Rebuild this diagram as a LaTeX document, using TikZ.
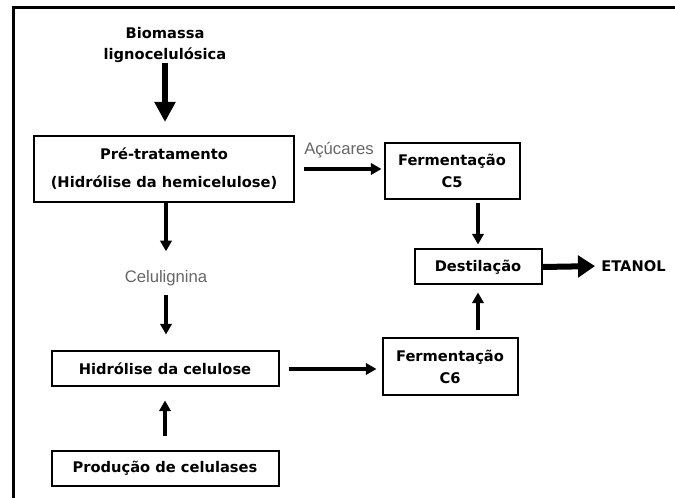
\documentclass[tikz,border=0pt]{standalone}
\usepackage{fontspec}
\setmainfont{DejaVu Sans}
\newfontfamily\lightsans{Liberation Sans}
\usetikzlibrary{arrows.meta}

\begin{document}
\begin{tikzpicture}[x=0.75pt,y=-0.75pt,
  stage/.style={draw=black, line width=1.5pt, fill=white,
    font=\bfseries\fontsize{11}{13}\selectfont, align=center, inner sep=0pt},
  note/.style={font=\bfseries\fontsize{11}{15.5}\selectfont, align=center, inner sep=0pt},
  flowlabel/.style={font=\lightsans\fontsize{12.5}{14}\selectfont, text=black!60, inner sep=0pt},
  flow/.style={line width=2.3pt, -{Triangle[width=8.5pt,length=8pt]}},
  bigflow/.style={line width=4.5pt, -{Triangle[width=15pt,length=15pt]}},
  outflow/.style={line width=4.5pt, -{Triangle[width=16pt,length=12.75pt]}},
]
\useasboundingbox (0,0) rectangle (675,498);

% open frame: top and left edges
\draw[line width=2.25pt] (13.5,498) -- (13.5,7.5) -- (675,7.5);

% process stages
\node[stage, minimum width=195pt, minimum height=49.5pt] (pre) at (164,169)
  {Pré-tratamento\\[8pt](Hidrólise da hemicelulose)};
\node[stage, minimum width=101.25pt, minimum height=42pt] (c5) at (452,171)
  {Fermentação\\[3pt]C5};
\node[stage, minimum width=95.25pt, minimum height=26.25pt] (dest) at (478,267)
  {Destilação};
\node[stage, minimum width=101.25pt, minimum height=42.75pt] (c6) at (450,367)
  {Fermentação\\[3pt]C6};
\node[stage, minimum width=170.25pt, minimum height=26.25pt] (hidro) at (165,369)
  {Hidrólise da celulose};
\node[stage, minimum width=170.25pt, minimum height=26.25pt] (prod) at (165,468.5)
  {Produção de celulases};

% free labels
\node[note] (bio) at (165,45) {Biomassa\\lignocelulósica};
\node[note, anchor=west] (etanol) at (601,266) {ETANOL};
\node[flowlabel] (celu) at (166,278) {Celulignina};
\node[flowlabel] (acu) at (339,150) {Açúcares};

% flows
\draw[bigflow, shorten >=9.75pt] (bio.south) -- (bio.south |- pre.north);
\draw[flow, shorten >=14pt] (pre.south -| celu.north) -- (celu.north);
\draw[flow, shorten <=7pt, shorten >=12pt] (celu.south) -- (celu.south |- hidro.north);
\draw[flow, shorten <=10.5pt, shorten >=9.75pt] (prod.north) -- (hidro.south);
\draw[flow, shorten <=6.75pt, shorten >=3.75pt] (hidro.east) -- (hidro.east -| c6.west);
\draw[flow, shorten <=6.75pt, shorten >=1.5pt] (pre.east) -- (pre.east -| c5.west);
\draw[flow, shorten <=2.25pt, shorten >=3pt] (c5.south -| dest.north) -- (dest.north);
\draw[flow, shorten <=5.25pt, shorten >=5.25pt] (c6.north -| dest.south) -- (dest.south);
\draw[outflow, shorten >=4.5pt] (dest.east) -- (etanol.west);
\end{tikzpicture}
\end{document}
